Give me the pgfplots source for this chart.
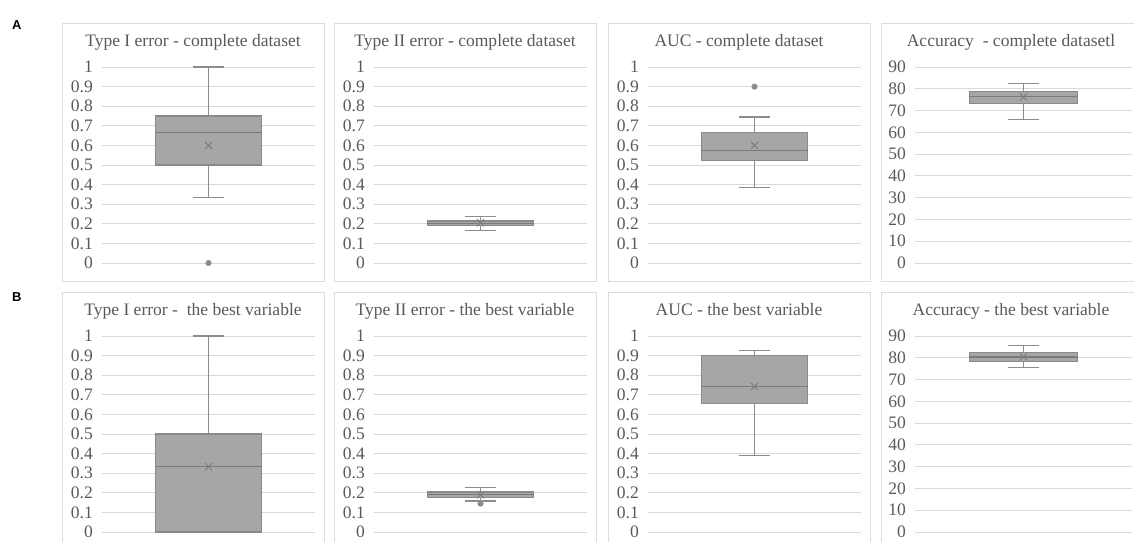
\documentclass[border=0pt]{standalone}
\usepackage{fontspec}
\setmainfont{Liberation Serif}
\newfontfamily\panelfont{Liberation Sans}
\usepackage{pgfplots}
\pgfplotsset{compat=1.18}
\usepgfplotslibrary{statistics}

\definecolor{gridc}{HTML}{D9D9D9}
\definecolor{framec}{HTML}{DCDCDC}
\definecolor{txt}{HTML}{595959}
\definecolor{boxfill}{HTML}{A6A6A6}
\definecolor{boxline}{HTML}{8A8A8A}
\definecolor{medc}{HTML}{7A7A7A}
\definecolor{whc}{HTML}{8C8C8C}
\definecolor{outc}{HTML}{8C8C8C}

\pgfplotsset{
  panel/.style={
    scale only axis, width=213bp, height=196bp,
    xmin=0, xmax=2, ymin=0, ymax=1,
    ytick={0,0.1,0.2,0.3,0.4,0.5,0.6,0.7,0.8,0.9,1},
    xtick=\empty, major tick length=0pt,
    axis line style={draw=none},
    ymajorgrids, grid style={gridc, line width=0.9bp},
    /pgf/number format/assume math mode=true,
    yticklabel style={font=\fontsize{17.6}{20}\selectfont, text=txt, inner sep=0pt, xshift=-9bp},
    clip=false,
    boxplot/draw direction=y,
    boxplot/draw position=1,
    boxplot/box extend=1,
    boxplot/whisker extend=0.29,
    boxplot/every box/.style={fill=boxfill, draw=boxline, line width=1.1bp},
    boxplot/every median/.style={draw=medc, line width=1.2bp},
    boxplot/every whisker/.style={draw=whc, line width=1.1bp},
  },
  acc/.style={ymax=90, ytick={0,10,20,30,40,50,60,70,80,90}},
  meanmark/.style={only marks, mark=x, mark size=5bp, draw=medc, line width=0.9bp},
  outmark/.style={only marks, mark=*, mark size=2.8bp, draw=outc, fill=outc},
}

\begin{document}
\begin{tikzpicture}[x=1bp, y=1bp]
\useasboundingbox (0,0) rectangle (1134,542);

% panel frames
\begin{scope}[framec, line width=0.9bp]
  \draw (62,519) rectangle (324,261);
  \draw (334,519) rectangle (596,261);
  \draw (608,519) rectangle (870,261);
  \draw (881,519) rectangle (1142,261);
  \draw (62,250) rectangle (324,-5);
  \draw (334,250) rectangle (596,-5);
  \draw (608,250) rectangle (870,-5);
  \draw (881,250) rectangle (1142,-5);
\end{scope}

% panel letters
\node[anchor=base west, inner sep=0pt, font=\panelfont\bfseries\fontsize{13}{15}\selectfont] at (12,512) {A};
\node[anchor=base west, inner sep=0pt, font=\panelfont\bfseries\fontsize{13}{15}\selectfont] at (12,240) {B};

% titles
\begin{scope}[every node/.style={anchor=base, inner sep=0pt, text=txt, font=\fontsize{17.6}{20}\selectfont}]
  \node at (193,495) {Type I error - complete dataset};
  \node at (465,495) {Type II error - complete dataset};
  \node at (739,495) {AUC - complete dataset};
  \node at (1011,495) {Accuracy~ - complete datasetl};
  \node at (193,226) {Type I error -~ the best variable};
  \node at (465,226) {Type II error - the best variable};
  \node at (739,226) {AUC - the best variable};
  \node at (1011,226) {Accuracy - the best variable};
\end{scope}

% row A
\begin{axis}[panel, at={(102bp,279bp)}, anchor=south west]
  \addplot[boxplot prepared={lower whisker=0.333, lower quartile=0.5, median=0.667, upper quartile=0.75, upper whisker=1}] coordinates {};
  \addplot[meanmark] coordinates {(1,0.6)};
  \addplot[outmark] coordinates {(1,0)};
\end{axis}

\begin{axis}[panel, at={(374bp,279bp)}, anchor=south west]
  \addplot[boxplot prepared={lower whisker=0.167, lower quartile=0.19, median=0.2, upper quartile=0.214, upper whisker=0.238}] coordinates {};
  \addplot[meanmark] coordinates {(1,0.205)};
\end{axis}

\begin{axis}[panel, at={(648bp,279bp)}, anchor=south west]
  \addplot[boxplot prepared={lower whisker=0.385, lower quartile=0.524, median=0.572, upper quartile=0.665, upper whisker=0.745}] coordinates {};
  \addplot[meanmark] coordinates {(1,0.6)};
  \addplot[outmark] coordinates {(1,0.9)};
\end{axis}

\begin{axis}[panel, acc, width=217bp, at={(915bp,279bp)}, anchor=south west]
  \addplot[boxplot prepared={lower whisker=66, lower quartile=73.1, median=76.6, upper quartile=78.8, upper whisker=82.3}] coordinates {};
  \addplot[meanmark] coordinates {(1,76.2)};
\end{axis}

% row B
\begin{axis}[panel, at={(102bp,10bp)}, anchor=south west]
  \addplot[boxplot prepared={lower whisker=0, lower quartile=0, median=0.333, upper quartile=0.5, upper whisker=1}] coordinates {};
  \addplot[meanmark] coordinates {(1,0.333)};
\end{axis}

\begin{axis}[panel, at={(374bp,10bp)}, anchor=south west]
  \addplot[boxplot prepared={lower whisker=0.158, lower quartile=0.177, median=0.19, upper quartile=0.204, upper whisker=0.227}] coordinates {};
  \addplot[meanmark] coordinates {(1,0.19)};
  \addplot[outmark] coordinates {(1,0.145)};
\end{axis}

\begin{axis}[panel, at={(648bp,10bp)}, anchor=south west]
  \addplot[boxplot prepared={lower whisker=0.388, lower quartile=0.655, median=0.743, upper quartile=0.9, upper whisker=0.925}] coordinates {};
  \addplot[meanmark] coordinates {(1,0.742)};
\end{axis}

\begin{axis}[panel, acc, width=217bp, at={(915bp,10bp)}, anchor=south west]
  \addplot[boxplot prepared={lower whisker=75.4, lower quartile=78.4, median=80.4, upper quartile=82.3, upper whisker=85.7}] coordinates {};
  \addplot[meanmark] coordinates {(1,80.5)};
\end{axis}
\end{tikzpicture}
\end{document}
